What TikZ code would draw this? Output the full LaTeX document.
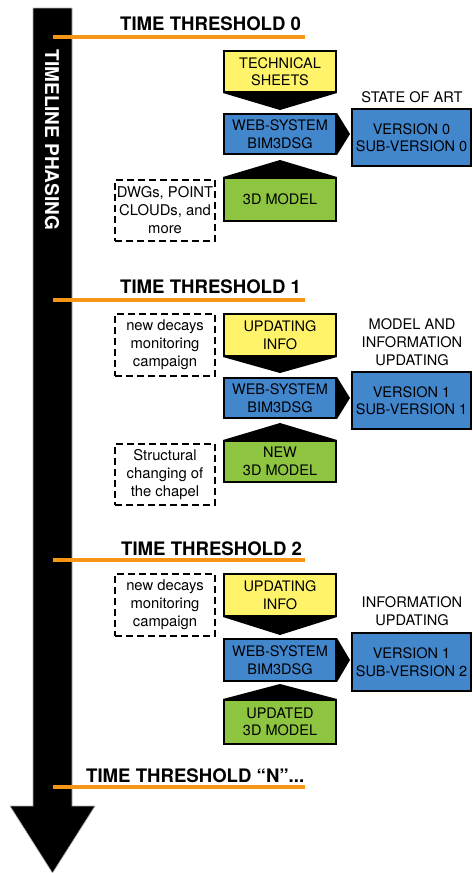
\documentclass[tikz,border=0pt]{standalone}
\usepackage{fontspec}
\setmainfont{TeX Gyre Heros}
\usetikzlibrary{calc}
\definecolor{oyellow}{RGB}{255,244,105}
\definecolor{oblue}{RGB}{66,134,204}
\definecolor{ogreen}{RGB}{141,196,64}
\definecolor{oorange}{RGB}{247,150,22}
\tikzset{
  box/.style={draw=black,line width=2pt,minimum width=112pt,inner sep=0pt,align=center,font=\fontsize{14.5}{17.5}\selectfont},
  ybox/.style={box,fill=oyellow},
  bbox/.style={box,fill=oblue},
  gbox/.style={box,fill=ogreen},
  vbox/.style={box,fill=oblue,minimum width=119pt},
  dbox/.style={draw=black,line width=2pt,dash pattern=on 7pt off 4pt,minimum width=100pt,inner sep=0pt,align=center,font=\fontsize{14.8}{18}\selectfont},
  lbl/.style={align=center,font=\fontsize{14.6}{18}\selectfont,inner sep=0pt},
  thr/.style={anchor=base west,inner sep=0pt,font=\bfseries\fontsize{18.6}{20}\selectfont},
  oline/.style={draw=oorange,line width=4pt},
  tip/.style={fill=black}
}
\begin{document}
\begin{tikzpicture}[x=1pt,y=-1pt]
\useasboundingbox[fill=white] (0,0) rectangle (473,873);
% timeline
\fill[black,draw=gray!60,line width=0.6pt] (33,8) -- (72,8) -- (72,806) -- (95,806) -- (52.5,873) -- (10,806) -- (33,806) -- cycle;
\node[rotate=-90,text=white,inner sep=0pt,font=\bfseries\fontsize{19}{20}\selectfont] (tl) at (52,140) {TIMELINE PHASING};
% threshold lines
\coordinate (l0a) at (53,37); \coordinate (l0b) at (305,37);
\coordinate (l1a) at (53,300); \coordinate (l1b) at (305,300);
\coordinate (l2a) at (53,560); \coordinate (l2b) at (305,560);
\coordinate (lna) at (53,787); \coordinate (lnb) at (305,787);
\draw[oline] (l0a) -- (l0b);
\draw[oline] (l1a) -- (l1b);
\draw[oline] (l2a) -- (l2b);
\draw[oline] (lna) -- (lnb);
\node[thr] (t0) at (120,30) {TIME THRESHOLD 0};
\node[thr] (t1) at (120,293) {TIME THRESHOLD 1};
\node[thr] (t2) at (121,555) {TIME THRESHOLD 2};
\node[thr] (tn) at (86,782) {TIME THRESHOLD “N”...};
% ---- phase 0
\node[ybox,minimum height=41pt] (y0) at (280,71.5) {TECHNICAL\\SHEETS};
\node[bbox,minimum height=40pt] (b0) at (280,134) {WEB-SYSTEM\\BIM3DSG};
\node[gbox,minimum height=43pt] (g0) at (280,199.5) {3D MODEL};
\node[vbox,minimum height=57pt] (v0) at (411.5,137.5) {VERSION 0\\SUB-VERSION 0};
\node[lbl] (s0) at (412,97) {STATE OF ART};
\node[dbox,minimum height=61pt] (d0) at (165,210.5) {DWGs, POINT\\CLOUDs, and\\more};
\fill[tip] (y0.south west) -- (y0.south east) -- ($(y0.south)+(0,17)$) -- cycle;
\fill[tip] (g0.north west) -- (g0.north east) -- ($(g0.north)+(0,-17)$) -- cycle;
\fill[tip] (b0.north east) -- (b0.south east) -- ($(b0.east)+(13,0)$) -- cycle;
% ---- phase 1
\node[ybox,minimum height=42pt] (y1) at (280,335) {UPDATING\\INFO};
\node[bbox,minimum height=40pt] (b1) at (280,398) {WEB-SYSTEM\\BIM3DSG};
\node[gbox,minimum height=41pt] (g1) at (280,461.5) {NEW\\3D MODEL};
\node[vbox,minimum height=57pt] (v1) at (411.5,400.5) {VERSION 1\\SUB-VERSION 1};
\node[lbl] (s1) at (412,342) {MODEL AND\\INFORMATION\\UPDATING};
\node[dbox,minimum height=62pt] (d1a) at (165,345) {new decays\\monitoring\\campaign};
\node[dbox,minimum height=61pt] (d1b) at (165,474.5) {Structural\\changing of\\the chapel};
\fill[tip] (y1.south west) -- (y1.south east) -- ($(y1.south)+(0,16)$) -- cycle;
\fill[tip] (g1.north west) -- (g1.north east) -- ($(g1.north)+(0,-17)$) -- cycle;
\fill[tip] (b1.north east) -- (b1.south east) -- ($(b1.east)+(13,0)$) -- cycle;
% ---- phase 2
\node[ybox,minimum height=42pt] (y2) at (280,595) {UPDATING\\INFO};
\node[bbox,minimum height=42pt] (b2) at (280,660) {WEB-SYSTEM\\BIM3DSG};
\node[gbox,minimum height=44pt] (g2) at (280,722) {UPDATED\\3D MODEL};
\node[vbox,minimum height=58pt] (v2) at (411.5,662) {VERSION 1\\SUB-VERSION 2};
\node[lbl] (s2) at (412,611) {INFORMATION\\UPDATING};
\node[dbox,minimum height=62pt] (d2) at (165,605) {new decays\\monitoring\\campaign};
\fill[tip] (y2.south west) -- (y2.south east) -- ($(y2.south)+(0,18)$) -- cycle;
\fill[tip] (g2.north west) -- (g2.north east) -- ($(g2.north)+(0,-15)$) -- cycle;
\fill[tip] (b2.north east) -- (b2.south east) -- ($(b2.east)+(13,0)$) -- cycle;
\end{tikzpicture}
\end{document}
